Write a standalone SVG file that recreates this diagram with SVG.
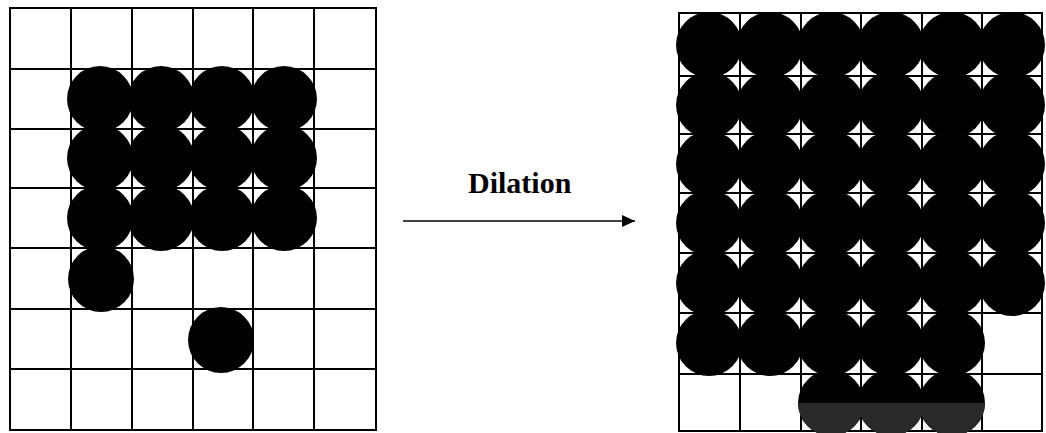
<svg xmlns="http://www.w3.org/2000/svg" width="1046" height="433" viewBox="0 0 1046 433">
  <style>
    .grid line { stroke: #000; stroke-width: 2; stroke-linecap: square; }
    .dot { fill: #000; }
    .dot-shade { fill: #2a2a2a; }
    .label { font-family: "Liberation Serif", "Times New Roman", serif; font-size: 30px; font-weight: bold; fill: #000; }
    .arrow { stroke: #000; stroke-width: 1.6; fill: none; }
  </style>
  <defs>
    <marker id="head" viewBox="0 0 13 12" refX="13" refY="6" markerWidth="13" markerHeight="12" markerUnits="userSpaceOnUse" orient="auto">
      <path d="M0,0 L13,6 L0,12 Z" fill="#000"/>
    </marker>
    <clipPath id="lowerHalf">
      <rect x="660" y="403" width="386" height="30"/>
    </clipPath>
  </defs>
  <rect width="1046" height="433" fill="#fff"/>

  <!-- Input image: 6 x 7 pixel grid -->
  <g id="input-image">
    <g class="grid">
      <line x1="10" y1="8" x2="10" y2="430"/>
      <line x1="71" y1="8" x2="71" y2="430"/>
      <line x1="132" y1="8" x2="132" y2="430"/>
      <line x1="193" y1="8" x2="193" y2="430"/>
      <line x1="253" y1="8" x2="253" y2="430"/>
      <line x1="314" y1="8" x2="314" y2="430"/>
      <line x1="376" y1="8" x2="376" y2="430"/>
      <line x1="10" y1="8" x2="376" y2="8"/>
      <line x1="10" y1="69" x2="376" y2="69"/>
      <line x1="10" y1="129" x2="376" y2="129"/>
      <line x1="10" y1="188" x2="376" y2="188"/>
      <line x1="10" y1="248" x2="376" y2="248"/>
      <line x1="10" y1="309" x2="376" y2="309"/>
      <line x1="10" y1="369" x2="376" y2="369"/>
      <line x1="10" y1="430" x2="376" y2="430"/>
    </g>
    <g class="dot">
      <circle cx="100" cy="99" r="33"/>
      <circle cx="161" cy="99" r="33"/>
      <circle cx="222" cy="99" r="33"/>
      <circle cx="284" cy="99" r="33"/>
      <circle cx="100" cy="158" r="33"/>
      <circle cx="161" cy="158" r="33"/>
      <circle cx="222" cy="158" r="33"/>
      <circle cx="284" cy="158" r="33"/>
      <circle cx="100" cy="218" r="33"/>
      <circle cx="161" cy="218" r="33"/>
      <circle cx="222" cy="218" r="33"/>
      <circle cx="284" cy="218" r="33"/>
      <circle cx="101" cy="279" r="33"/>
      <circle cx="221" cy="340" r="33"/>
    </g>
  </g>

  <!-- Operation arrow -->
  <g id="connectors">
    <text class="label" x="468" y="193">Dilation</text>
    <line class="arrow" x1="403" y1="221" x2="635" y2="221" marker-end="url(#head)"/>
  </g>

  <!-- Dilated image: 6 x 7 pixel grid -->
  <g id="output-image">
    <g class="grid">
      <line x1="679" y1="13" x2="679" y2="431"/>
      <line x1="740" y1="13" x2="740" y2="431"/>
      <line x1="801" y1="13" x2="801" y2="431"/>
      <line x1="861" y1="13" x2="861" y2="431"/>
      <line x1="922" y1="13" x2="922" y2="431"/>
      <line x1="982" y1="13" x2="982" y2="431"/>
      <line x1="1042" y1="13" x2="1042" y2="431"/>
      <line x1="679" y1="13" x2="1042" y2="13"/>
      <line x1="679" y1="76" x2="1042" y2="76"/>
      <line x1="679" y1="134" x2="1042" y2="134"/>
      <line x1="679" y1="193" x2="1042" y2="193"/>
      <line x1="679" y1="253" x2="1042" y2="253"/>
      <line x1="679" y1="313" x2="1042" y2="313"/>
      <line x1="679" y1="374" x2="1042" y2="374"/>
      <line x1="679" y1="431" x2="1042" y2="431"/>
    </g>
    <g class="dot">
      <circle cx="709" cy="45" r="33"/>
      <circle cx="770" cy="45" r="33"/>
      <circle cx="831" cy="45" r="33"/>
      <circle cx="891" cy="45" r="33"/>
      <circle cx="952" cy="45" r="33"/>
      <circle cx="1012" cy="45" r="33"/>
      <circle cx="709" cy="105" r="33"/>
      <circle cx="770" cy="105" r="33"/>
      <circle cx="831" cy="105" r="33"/>
      <circle cx="891" cy="105" r="33"/>
      <circle cx="952" cy="105" r="33"/>
      <circle cx="1012" cy="105" r="33"/>
      <circle cx="709" cy="164" r="33"/>
      <circle cx="770" cy="164" r="33"/>
      <circle cx="831" cy="164" r="33"/>
      <circle cx="891" cy="164" r="33"/>
      <circle cx="952" cy="164" r="33"/>
      <circle cx="1012" cy="164" r="33"/>
      <circle cx="709" cy="223" r="33"/>
      <circle cx="770" cy="223" r="33"/>
      <circle cx="831" cy="223" r="33"/>
      <circle cx="891" cy="223" r="33"/>
      <circle cx="952" cy="223" r="33"/>
      <circle cx="1012" cy="223" r="33"/>
      <circle cx="709" cy="283" r="33"/>
      <circle cx="770" cy="283" r="33"/>
      <circle cx="831" cy="283" r="33"/>
      <circle cx="891" cy="283" r="33"/>
      <circle cx="952" cy="283" r="33"/>
      <circle cx="1012" cy="283" r="33"/>
      <circle cx="709" cy="343" r="33"/>
      <circle cx="770" cy="343" r="33"/>
      <circle cx="831" cy="343" r="33"/>
      <circle cx="891" cy="343" r="33"/>
      <circle cx="952" cy="343" r="33"/>
      <circle cx="831" cy="403" r="33"/>
      <circle cx="891" cy="403" r="33"/>
      <circle cx="952" cy="403" r="33"/>
    </g>
    <!-- lower halves of the bottom row print as dark grey -->
    <g class="dot-shade" clip-path="url(#lowerHalf)">
      <circle cx="831" cy="403" r="33"/>
      <circle cx="891" cy="403" r="33"/>
      <circle cx="952" cy="403" r="33"/>
    </g>
  </g>
</svg>
